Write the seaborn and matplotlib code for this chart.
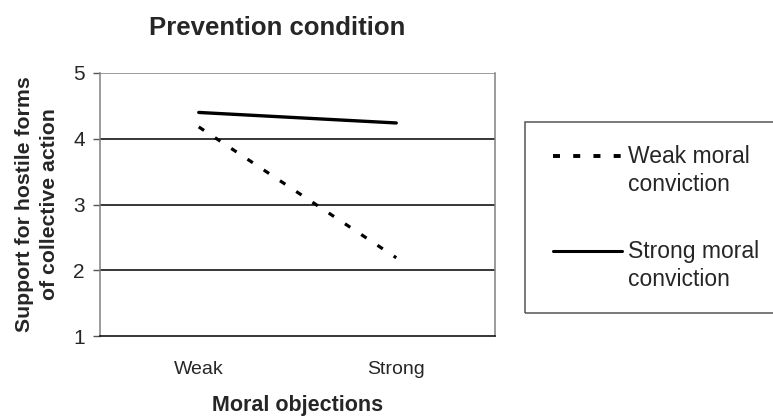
import matplotlib
matplotlib.use("Agg")
import matplotlib.pyplot as plt
import seaborn as sns
import pandas as pd
from matplotlib.patches import Rectangle
from matplotlib.lines import Line2D

objections = ["Weak", "Strong"]
weak_conviction = [4.18, 2.19]
strong_conviction = [4.40, 4.24]
series_names = ["Weak moral\nconviction", "Strong moral\nconviction"]

sns.set_theme(style="white")
plt.rcParams['font.family'] = ['Liberation Sans', 'DejaVu Sans']

df = pd.DataFrame({
    "objections": objections * 2,
    "support": weak_conviction + strong_conviction,
    "series": [series_names[0]] * 2 + [series_names[1]] * 2,
})

W, H = 773, 417
fig = plt.figure(figsize=(W / 100, H / 100), dpi=100)
ax = fig.add_axes([100 / W, 1 - 336 / H, (495 - 100) / W, (336 - 73) / H])

sns.lineplot(data=df[df.series == series_names[0]], x="objections", y="support",
             ax=ax, color="black", lw=2.3, legend=False, sort=False)
sns.lineplot(data=df[df.series == series_names[1]], x="objections", y="support",
             ax=ax, color="black", lw=2.4, legend=False, sort=False)
ax.lines[0].set_dashes([2.0, 4.1])

ax.set_xlim(-0.5, 1.5)
ax.set_ylim(1, 5)
ax.set_yticks([1, 2, 3, 4, 5])
for yv in [2, 3, 4]:
    ax.axhline(yv, color="black", lw=1.1, zorder=0)
ax.axhline(5, color="#808080", lw=1.1, zorder=0)
ax.set_xticks([0, 1])
ax.set_xticklabels(objections, fontsize=14)
ax.set_xticks([-0.5, 0.5, 1.5], minor=True)
ax.tick_params(axis="x", which="major", length=0, pad=18)
ax.tick_params(axis="x", which="minor", length=5, width=1, color="#555555", direction="out")
ax.tick_params(axis="y", length=5, width=1, color="#555555", direction="out", labelsize=15, pad=6)
ax.tick_params(left=True, bottom=True)
for s in ["left", "right"]:
    ax.spines[s].set_color("#808080")
    ax.spines[s].set_linewidth(1.1)
ax.spines["top"].set_visible(False)
ax.spines["bottom"].set_color("black")
ax.spines["bottom"].set_linewidth(1.1)
ax.set_xlabel("")
ax.set_ylabel("")

fig.text(277 / W, 1 - 28 / H, "Prevention condition", fontsize=18.5, fontweight="bold",
         ha="center", va="center")
fig.text(298 / W, 1 - 405 / H, "Moral objections", fontsize=15.5, fontweight="bold",
         ha="center", va="center")
fig.text(37 / W, 1 - 204 / H, "Support for hostile forms\nof collective action", fontsize=15.3,
         fontweight="bold", ha="center", va="center", rotation=90, linespacing=1.45)

# legend box
fig.patches.append(Rectangle((525 / W, 1 - 313 / H), 300 / W, (313 - 122) / H,
                             transform=fig.transFigure, fill=False, edgecolor="#555555",
                             lw=1.1))
# legend entries (drawn manually: handle aligned with first text line)
leg_y = [156, 251]
leg_styles = [dict(lw=2.8, dashes=[1.8, 3.4]), dict(lw=2.2)]
for yy, name, st in zip(leg_y, series_names, leg_styles):
    ln = Line2D([553 / W, 622 / W], [1 - yy / H, 1 - yy / H], transform=fig.transFigure,
                color="black", **st)
    fig.lines.append(ln)
    fig.text(628 / W, 1 - (yy - 11) / H, name, fontsize=16.5, ha="left", va="top",
             linespacing=1.27)

fig.savefig("out.png", dpi=100)
